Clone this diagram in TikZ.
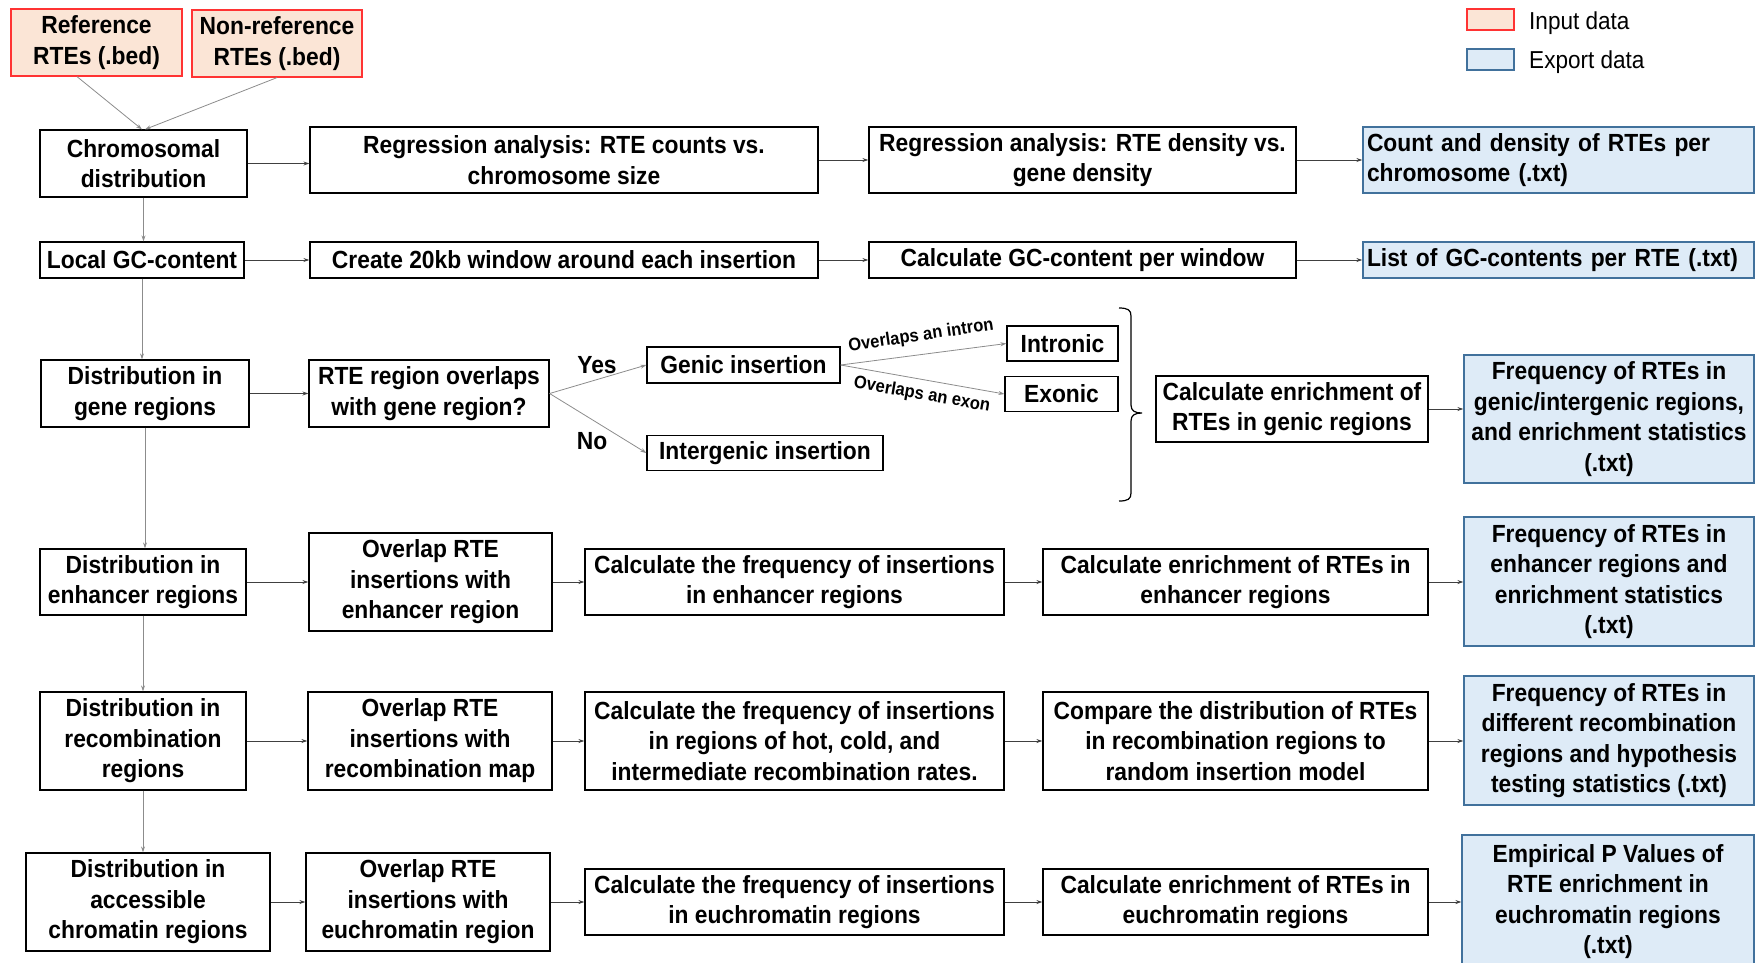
\documentclass[tikz,border=0pt]{standalone}
\usepackage{fontspec}
\setmainfont{Liberation Sans}[FakeStretch=0.92]
\usetikzlibrary{arrows.meta,calc}
\definecolor{infill}{HTML}{FBE5D6}
\definecolor{indraw}{HTML}{FF3333}
\definecolor{outfill}{HTML}{DEEBF7}
\definecolor{outdraw}{HTML}{41719C}
\definecolor{arrgray}{HTML}{404040}
\definecolor{lgray}{HTML}{8C8C8C}
\newcommand{\mybf}{\fontsize{24.8}{30.5}\selectfont\bfseries}
\newcommand{\mylbl}{\fontsize{18}{20}\selectfont\bfseries}
\newcommand{\mylegend}{\fontsize{24.5}{28}\selectfont}
\begin{document}
\begin{tikzpicture}[x=1pt,y=-1pt,
  box/.style={draw=black, line width=1.2pt, fill=white, inner sep=0pt, align=center, font=\mybf},
  inbox/.style={box, draw=indraw, fill=infill},
  outbox/.style={box, draw=outdraw, fill=outfill},
  leftbox/.style={outbox, align=left, inner xsep=4pt, text width=#1},
  arr/.style={draw=arrgray, line width=1pt, -{Stealth[length=6pt,width=4pt]}},
  varr/.style={draw=lgray, line width=0.8pt, -{Stealth[length=6pt,width=4pt]}},
  lbl/.style={font=\mybf, inner sep=0pt},
  slbl/.style={font=\mylbl, inner sep=0pt},
  legbox/.style={line width=1.2pt, minimum width=47pt, minimum height=21pt, inner sep=0pt},
  legtext/.style={font=\mylegend, anchor=base west, inner sep=0pt}
]
\useasboundingbox (0,0) rectangle (1756,962);

% input data
\node[inbox, minimum width=171pt, minimum height=67pt] (ref) at (96.5,42.5) {Reference\\RTEs (.bed)};
\node[inbox, minimum width=170pt, minimum height=67pt] (nonref) at (277,43.5) {Non-reference\\RTEs (.bed)};

% legend
\node[legbox, draw=indraw, fill=infill] (legin) at (1490.5,19.5) {};
\node[legtext] (legintext) at (1529,29) {Input data};
\node[legbox, draw=outdraw, fill=outfill] (legout) at (1490.5,59.5) {};
\node[legtext] (legouttext) at (1529,68) {Export data};

% row 1
\node[box, minimum width=207pt, minimum height=67pt] (chrom) at (143.5,163.5) {Chromosomal\\distribution};
\node[box, minimum width=508pt, minimum height=66pt] (reg1) at (564,160) {Regression analysis: RTE counts vs.\\chromosome size};
\node[box, minimum width=427pt, minimum height=66pt] (reg2) at (1082.5,160) {Regression analysis: RTE density vs.\\gene density};
\node[leftbox=383pt, minimum width=391pt, minimum height=66pt] (count) at (1558.5,160) {Count and density of RTEs per\\chromosome (.txt)};

% row 2
\node[box, minimum width=204pt, minimum height=36pt] (gc) at (142,260) {Local GC-content};
\node[box, minimum width=508pt, minimum height=36pt] (win) at (564,260) {Create 20kb window around each insertion};
\node[box, minimum width=427pt, minimum height=36pt] (calcgc) at (1082.5,260) {Calculate GC-content per window};
\node[leftbox=383pt, minimum width=391pt, minimum height=36pt] (list) at (1558.5,260) {List of GC-contents per RTE (.txt)};

% row 3
\node[box, minimum width=208pt, minimum height=67pt] (gene) at (145,393.5) {Distribution in\\gene regions};
\node[box, minimum width=240pt, minimum height=67pt] (rteq) at (429,393.5) {RTE region overlaps\\with gene region?};
\node[box, minimum width=193pt, minimum height=36pt] (genic) at (743.5,365) {Genic insertion};
\node[box, minimum width=236pt, minimum height=35pt] (inter) at (765,453) {Intergenic insertion};
\node[box, minimum width=111pt, minimum height=35pt] (intron) at (1062.5,343.5) {Intronic};
\node[box, minimum width=113pt, minimum height=35pt] (exon) at (1061.5,394) {Exonic};
\node[box, minimum width=272pt, minimum height=66pt] (enrgen) at (1292,409) {Calculate enrichment of\\RTEs in genic regions};
\node[outbox, minimum width=290pt, minimum height=128pt] (outgen) at (1609,419) {Frequency of RTEs in\\genic/intergenic regions,\\and enrichment statistics\\(.txt)};

\node[lbl] (yes) at (597,365) {Yes};
\node[lbl] (no) at (592,441) {No};
\node[slbl, rotate=8.5] (lintron) at (921,336) {Overlaps an intron};
\node[slbl, rotate=-10] (lexon) at (922,395) {Overlaps an exon};

% brace
\draw[line width=1.2pt] (1119,308) .. controls (1128,308) and (1131,310) .. (1131,316)
  -- (1131,405) .. controls (1131,411) and (1135,413) .. (1142,413)
  .. controls (1135,413) and (1131,415) .. (1131,421)
  -- (1131,493) .. controls (1131,499) and (1128,501) .. (1119,501);

% row 4
\node[box, minimum width=206pt, minimum height=66pt] (enh) at (143,582) {Distribution in\\enhancer regions};
\node[box, minimum width=243pt, minimum height=98pt] (ovenh) at (430.5,582) {Overlap RTE\\insertions with\\enhancer region};
\node[box, minimum width=419pt, minimum height=66pt] (freqenh) at (794.5,582) {Calculate the frequency of insertions\\in enhancer regions};
\node[box, minimum width=385pt, minimum height=66pt] (enrenh) at (1235.5,582) {Calculate enrichment of RTEs in\\enhancer regions};
\node[outbox, minimum width=290pt, minimum height=129pt] (outenh) at (1609,581.5) {Frequency of RTEs in\\enhancer regions and\\enrichment statistics\\(.txt)};

% row 5
\node[box, minimum width=206pt, minimum height=98pt] (rec) at (143,741) {Distribution in\\recombination\\regions};
\node[box, minimum width=244pt, minimum height=98pt] (ovrec) at (430,741) {Overlap RTE\\insertions with\\recombination map};
\node[box, minimum width=419pt, minimum height=98pt] (freqrec) at (794.5,741) {Calculate the frequency of insertions\\in regions of hot, cold, and\\intermediate recombination rates.};
\node[box, minimum width=385pt, minimum height=98pt] (cmprec) at (1235.5,741) {Compare the distribution of RTEs\\in recombination regions to\\random insertion model};
\node[outbox, minimum width=290pt, minimum height=129pt] (outrec) at (1609,740.5) {Frequency of RTEs in\\different recombination\\regions and hypothesis\\testing statistics (.txt)};

% row 6
\node[box, minimum width=244pt, minimum height=98pt] (acc) at (148,902) {Distribution in\\accessible\\chromatin regions};
\node[box, minimum width=244pt, minimum height=98pt] (oveu) at (428,902) {Overlap RTE\\insertions with\\euchromatin region};
\node[box, minimum width=419pt, minimum height=66pt] (freqeu) at (794.5,902) {Calculate the frequency of insertions\\in euchromatin regions};
\node[box, minimum width=385pt, minimum height=66pt] (enreu) at (1235.5,902) {Calculate enrichment of RTEs in\\euchromatin regions};
\node[outbox, minimum width=292pt, minimum height=133pt] (outeu) at (1608,901.5) {Empirical P Values of\\RTE enrichment in\\euchromatin regions\\(.txt)};

% input connectors
\draw[varr] ($(ref.south)+(-19.5,0)$) -- ($(chrom.north)+(-1.5,0)$);
\draw[varr] (nonref.south) -- ($(chrom.north)+(1.5,0)$);

% vertical chain
\draw[varr] (chrom.south) -- (chrom.south |- gc.north);
\draw[varr] (gc.south) -- (gc.south |- gene.north);
\draw[varr] (gene.south) -- (gene.south |- enh.north);
\draw[varr] (enh.south) -- (enh.south |- rec.north);
\draw[varr] (rec.south) -- (rec.south |- acc.north);

% horizontal chains
\draw[arr] (chrom.east) -- (chrom.east -| reg1.west);
\draw[arr] (reg1.east) -- (reg1.east -| reg2.west);
\draw[arr] (reg2.east) -- (reg2.east -| count.west);
\draw[arr] (gc.east) -- (gc.east -| win.west);
\draw[arr] (win.east) -- (win.east -| calcgc.west);
\draw[arr] (calcgc.east) -- (calcgc.east -| list.west);
\draw[arr] (gene.east) -- (gene.east -| rteq.west);
\draw[varr] (rteq.east) -- (genic.west);
\draw[varr] (rteq.east) -- (inter.west);
\draw[varr] (genic.east) -- (intron.west);
\draw[varr] (genic.east) -- (exon.west);
\draw[arr] (enrgen.east) -- (enrgen.east -| outgen.west);
\draw[arr] (enh.east) -- (enh.east -| ovenh.west);
\draw[arr] (ovenh.east) -- (ovenh.east -| freqenh.west);
\draw[arr] (freqenh.east) -- (freqenh.east -| enrenh.west);
\draw[arr] (enrenh.east) -- (enrenh.east -| outenh.west);
\draw[arr] (rec.east) -- (rec.east -| ovrec.west);
\draw[arr] (ovrec.east) -- (ovrec.east -| freqrec.west);
\draw[arr] (freqrec.east) -- (freqrec.east -| cmprec.west);
\draw[arr] (cmprec.east) -- (cmprec.east -| outrec.west);
\draw[arr] (acc.east) -- (acc.east -| oveu.west);
\draw[arr] (oveu.east) -- (oveu.east -| freqeu.west);
\draw[arr] (freqeu.east) -- (freqeu.east -| enreu.west);
\draw[arr] (enreu.east) -- (enreu.east -| outeu.west);
\end{tikzpicture}
\end{document}
